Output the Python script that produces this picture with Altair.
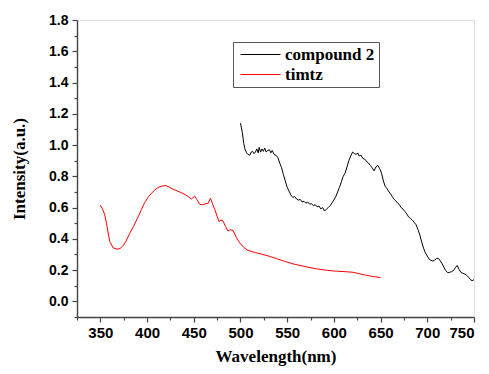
import altair as alt
import pandas as pd

# compound 2 (black)
c2_x = [500, 502, 503.5, 505, 506.5, 508, 510, 511.5, 513, 514.5, 516, 517.5, 519, 520, 521.5, 523,
        524.5, 526, 527.5, 529, 531, 532.5, 534, 536, 538, 540, 542, 544, 546, 548, 550, 552, 554,
        556, 558, 560, 562, 564, 566, 568, 570, 572, 574, 576, 578, 580, 582, 584, 586, 588, 590,
        592, 594, 596, 598, 600, 602, 604, 606, 608, 610, 612, 614, 616, 618, 620, 622, 624, 625.5,
        627, 629, 631, 633, 635, 637, 639, 641, 643, 645, 647, 649, 651, 653, 655, 657, 659, 661,
        663, 664, 666, 668, 670, 672, 674, 676, 678, 680, 682, 684, 686, 688, 690, 692, 694, 696,
        698, 700, 702, 704, 706, 708, 710, 712, 714, 716, 718, 720, 722, 724, 726, 728, 730, 732,
        734, 736, 738, 740, 742, 744, 746, 748, 750]
c2_y = [1.14, 1.08, 1.01, 0.97, 0.95, 0.94, 0.935, 0.955, 0.96, 0.945, 0.955, 0.975, 0.95, 0.985,
        0.955, 0.975, 0.96, 0.98, 0.955, 0.965, 0.97, 0.95, 0.965, 0.94, 0.935, 0.92, 0.885, 0.855,
        0.81, 0.77, 0.73, 0.705, 0.68, 0.665, 0.67, 0.655, 0.648, 0.652, 0.636, 0.64, 0.628, 0.635,
        0.622, 0.625, 0.612, 0.618, 0.605, 0.61, 0.592, 0.60, 0.578, 0.59, 0.60, 0.612, 0.63, 0.648,
        0.67, 0.70, 0.73, 0.765, 0.80, 0.82, 0.86, 0.90, 0.93, 0.955, 0.945, 0.94, 0.95, 0.93, 0.935,
        0.915, 0.91, 0.895, 0.885, 0.87, 0.855, 0.835, 0.86, 0.87, 0.85, 0.82, 0.77, 0.735, 0.72,
        0.70, 0.685, 0.665, 0.655, 0.645, 0.63, 0.62, 0.6, 0.59, 0.575, 0.56, 0.54, 0.53, 0.52,
        0.505, 0.49, 0.46, 0.425, 0.38, 0.34, 0.31, 0.29, 0.27, 0.262, 0.258, 0.265, 0.275, 0.275,
        0.258, 0.24, 0.215, 0.195, 0.183, 0.186, 0.19, 0.197, 0.215, 0.23, 0.205, 0.185, 0.18,
        0.175, 0.168, 0.155, 0.14, 0.132, 0.139]

# timtz (red)
tz_x = [350, 352, 354.6, 356.5, 358, 360, 363.5, 367.8, 371, 374, 377.5, 381, 385.5, 390, 394,
        397.4, 401, 404.6, 408, 411.7, 415.5, 419.9, 423.5, 427.7, 433, 438.4, 443, 447.4, 451,
        453.5, 456.3, 459.5, 462.7, 465.5, 467.8, 470, 472.4, 475, 477, 479, 481.3, 484, 486.6,
        489, 492, 495.5, 499.1, 503.5, 508, 516, 524, 531, 538.4, 547, 556.2, 568, 581.3, 592,
        602.7, 612, 620.5, 627, 634.8, 642, 650]
tz_y = [0.615, 0.595, 0.557, 0.50, 0.45, 0.385, 0.343, 0.334, 0.338, 0.353, 0.385, 0.43, 0.48,
        0.535, 0.588, 0.632, 0.665, 0.69, 0.712, 0.728, 0.737, 0.741, 0.732, 0.718, 0.705, 0.69,
        0.675, 0.655, 0.673, 0.65, 0.621, 0.618, 0.625, 0.628, 0.66, 0.625, 0.589, 0.545, 0.51,
        0.52, 0.514, 0.48, 0.45, 0.458, 0.454, 0.41, 0.375, 0.345, 0.326, 0.312, 0.30, 0.288,
        0.274, 0.257, 0.24, 0.224, 0.208, 0.199, 0.193, 0.19, 0.186, 0.177, 0.167, 0.159, 0.152]

series_names = ["compound 2", "timtz"]
series_colors = ["black", "red"]

x_major = [350, 400, 450, 500, 550, 600, 650, 700, 750]
x_minor = [325, 375, 425, 475, 525, 575, 625, 675, 725]
y_major = [0.0, 0.2, 0.4, 0.6, 0.8, 1.0, 1.2, 1.4, 1.6, 1.8]
y_minor = [-0.1, 0.1, 0.3, 0.5, 0.7, 0.9, 1.1, 1.3, 1.5, 1.7]

df = pd.concat([
    pd.DataFrame({"wl": c2_x, "val": c2_y, "series": series_names[0]}),
    pd.DataFrame({"wl": tz_x, "val": tz_y, "series": series_names[1]}),
])

xscale = alt.Scale(domain=[325, 750], nice=False, zero=False)
yscale = alt.Scale(domain=[-0.1, 1.8], nice=False, zero=False)
AX = "#444444"

main = alt.Chart(df).mark_line(strokeWidth=1.0).encode(
    x=alt.X("wl:Q", scale=xscale, axis=alt.Axis(
        orient="bottom", values=x_major, format="d", title="Wavelength(nm)",
        tickSize=5, tickColor=AX, domainColor=AX, domainWidth=1.4, tickWidth=1.2,
        labelFont="Liberation Sans", labelFontWeight="bold", labelFontSize=15, labelColor="black",
        labelPadding=3, grid=False,
        titleFont="Liberation Serif", titleFontWeight="bold", titleFontSize=17, titlePadding=8,
        titleColor="black")),
    y=alt.Y("val:Q", scale=yscale, axis=alt.Axis(
        orient="left", values=y_major, format=".1f", title="Intensity(a.u.)",
        tickSize=5, tickColor=AX, domainColor=AX, domainWidth=1.4, tickWidth=1.2,
        labelFont="Liberation Sans", labelFontWeight="bold", labelFontSize=14, labelColor="black",
        labelPadding=4, grid=False,
        titleFont="Liberation Serif", titleFontWeight="bold", titleFontSize=17, titlePadding=20,
        titleColor="black")),
    color=alt.Color("series:N", scale=alt.Scale(domain=series_names, range=series_colors),
                    legend=alt.Legend(
                        orient="none", legendX=156, legendY=22, title=None,
                        symbolType="M-4,0H4", symbolSize=100, symbolStrokeWidth=1.2,
                        symbolOffset=15, labelOffset=16,
                        labelFont="Liberation Serif", labelFontWeight="bold", labelFontSize=17,
                        labelColor="black", strokeColor="#555555", fillColor="white",
                        padding=4, rowPadding=2)),
)

minor = alt.Chart(df).mark_line(opacity=0).encode(
    x=alt.X("wl:Q", scale=xscale, axis=alt.Axis(
        orient="bottom", values=x_minor, labels=False, domain=False, title=None,
        tickSize=3, tickColor=AX, tickWidth=1.2, grid=False)),
    y=alt.Y("val:Q", scale=yscale, axis=alt.Axis(
        orient="left", values=y_minor, labels=False, domain=False, title=None,
        tickSize=3, tickColor=AX, tickWidth=1.2, grid=False)),
    detail="series:N",
)

chart = alt.layer(main, minor).resolve_axis(x="independent", y="independent").properties(
    width=397, height=297,
    autosize=alt.AutoSizeParams(type="none"),
    padding={"left": 77, "top": 20, "right": 15, "bottom": 57},
).configure_view(stroke=None).configure(background="white")

chart.save("out.html", embed_options={"renderer": "svg", "actions": False})
